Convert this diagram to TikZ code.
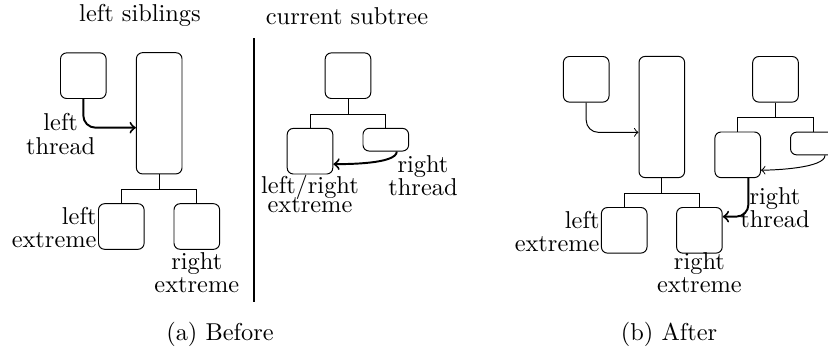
\documentclass[tikz,border=0pt]{standalone}
\usepackage{xcolor}
\usepackage{amsmath, amsfonts, amssymb}
\usepackage{tikz}

\begin{document}
\begin{tikzpicture}[x=0.41pt, y=-0.41pt,
    box/.style={draw, rounded corners=2.5pt, inner sep=0pt, minimum width=18.7pt, minimum height=18.7pt},
    tallbox/.style={box, minimum height=49.7pt},
    flatbox/.style={box, minimum height=9.3pt},
    lbl/.style={align=center, inner sep=0.5pt, font=\fontsize{10}{9.5}\selectfont}]
    \useasboundingbox (0, 0) rectangle (828, 347);

    % (a) before
    \node at (140, 15) (siblings) {left siblings};
    \node at (347, 16) (subtree) {current subtree};
    \coordinate (divtop) at (254, 38);
    \coordinate (divbot) at (254, 302);
    \draw[thick] (divtop) -- (divbot);

    \node[box] at (83.3, 75.7) (A) {};
    \node[tallbox] at (159.2, 113.3) (B) {};
    \node[box] at (121.3, 226.5) (C) {};
    \node[box] at (196.8, 226.5) (D) {};
    \draw (B.south) -- ++(0, 15) -| (C.north);
    \draw (B.south) -- ++(0, 15) -| (D.north);
    \draw[thick, ->, rounded corners=5pt] (A.south) |- ([yshift=-5.9pt]B.west);

    \node[box] at (348, 75.7) (R) {};
    \node[box] at (310, 151.2) (L1) {};
    \node[flatbox] at (385.8, 139.7) (R1) {};
    \draw (R.south) -- ++(0, 15) -| (L1.north);
    \draw (R.south) -- ++(0, 15) -| (R1.north);
    \draw[thick, ->] ([xshift=4.5pt]R1.south) to[out=-90, in=0, looseness=0.5] ([yshift=-5.3pt]L1.east);

    \node[lbl] at (60.7, 134) (lthread) {left\\thread};
    \node[lbl, anchor=east, align=right] at (98.2, 227.6) (lext) {left\\extreme};
    \node[lbl] at (196.8, 272.6) (rext) {right\\extreme};
    \node[lbl] at (423, 175.5) (rthread) {right\\thread};
    \node[lbl] at (310, 194) (lrext) {left/right\\[-2pt]extreme};
    \node[anchor=base] at (220, 340) (before) {(a) Before};

    % (b) after
    \node[box] at (586.2, 79.3) (A2) {};
    \node[tallbox] at (661.8, 117) (B2) {};
    \node[box] at (624.2, 230.3) (C2) {};
    \node[box] at (699.4, 230.3) (D2) {};
    \draw (B2.south) -- ++(0, 15) -| (C2.north);
    \draw (B2.south) -- ++(0, 15) -| (D2.north);
    \draw[->, rounded corners=5pt] (A2.south) |- ([yshift=-6.3pt]B2.west);

    \node[box] at (775.5, 79.3) (E) {};
    \node[box] at (737.7, 154.8) (F) {};
    \node[flatbox] at (813.3, 143.5) (G) {};
    \draw (E.south) -- ++(0, 15) -| (F.north);
    \draw (E.south) -- ++(0, 15) -| (G.north);
    \draw[->] ([xshift=4.8pt]G.south) to[out=-90, in=0, looseness=0.5] ([yshift=-6.3pt]F.east);
    \draw[thick, ->, rounded corners=5pt] ([xshift=4.4pt]F.south) |- ([yshift=5.6pt]D2.east);

    \node[lbl, anchor=east, align=right] at (601.2, 231.5) (lext2) {left\\extreme};
    \node[lbl] at (699.4, 273) (rext2) {right\\extreme};
    \node[lbl] at (775, 208) (rthread2) {right\\thread};
    \node[anchor=base] at (669, 340) (after) {(b) After};
\end{tikzpicture}
\end{document}
